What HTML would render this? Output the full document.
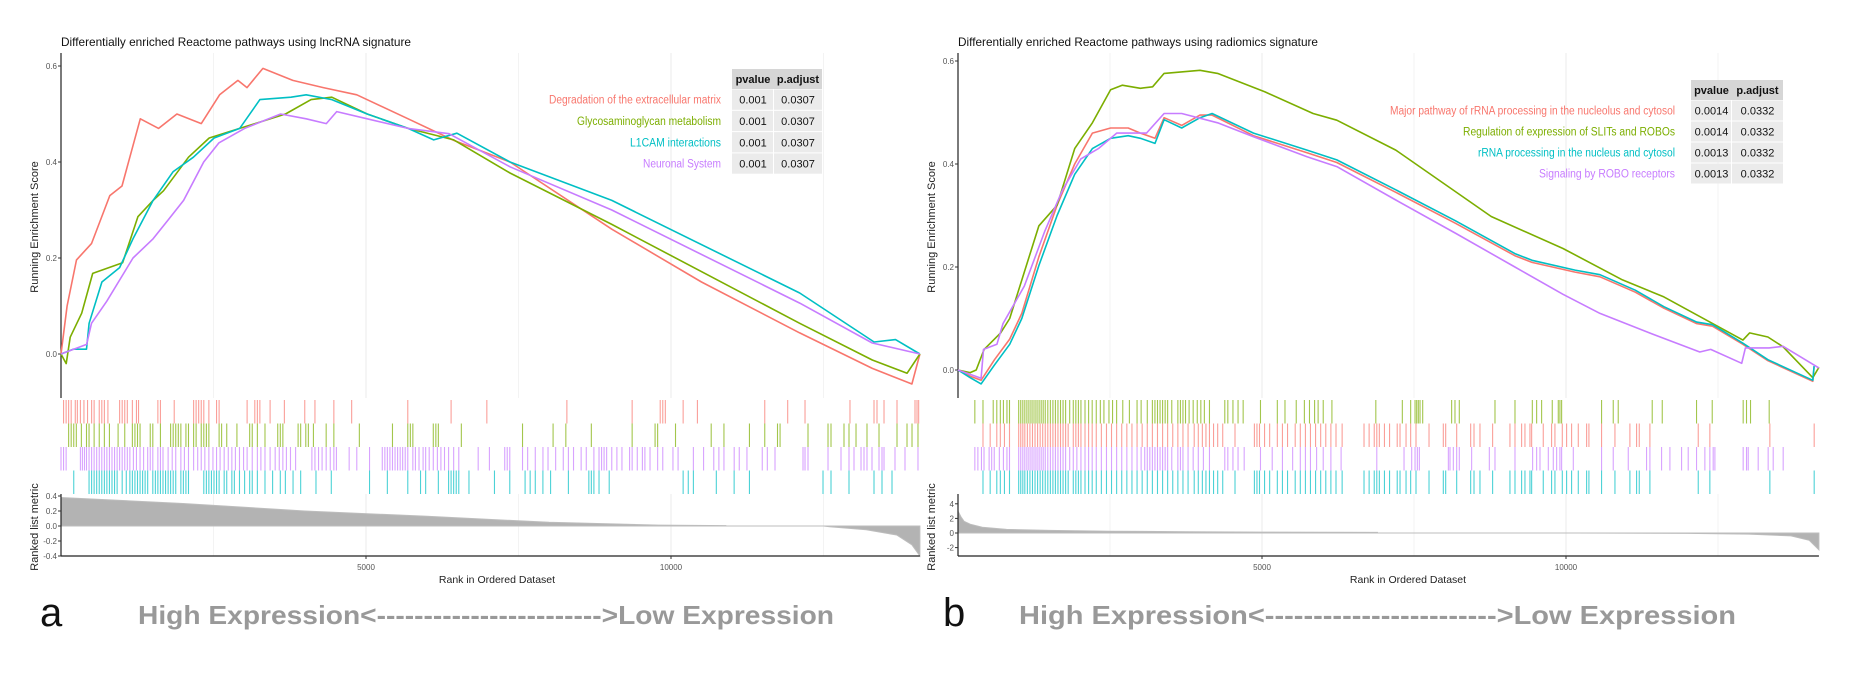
<!DOCTYPE html>
<html><head><meta charset="utf-8">
<style>
html,body{margin:0;padding:0;background:#fff;}
svg{display:block;font-family:"Liberation Sans",sans-serif;}
</style></head>
<body>
<svg id="chart" width="1852" height="676" viewBox="0 0 1852 676" xmlns="http://www.w3.org/2000/svg">
<rect width="1852" height="676" fill="#fff"/>
</svg>
<script>
// ---------- Panel a data ----------
const aSetNames = ["Degradation of the extracellular matrix","Glycosaminoglycan metabolism","L1CAM interactions","Neuronal System"];
const aPvalues = ["0.001","0.001","0.001","0.001"];
const aPadjust = ["0.0307","0.0307","0.0307","0.0307"];
const aXTicks = [5000,10000];
const aYTicks = [0.0,0.2,0.4,0.6];
const aMetricTicks = [-0.4,-0.2,0.0,0.2,0.4];
const aEsRed = [[0,0],[100,0.1],[254,0.196],[500,0.23],[800,0.33],[1000,0.35],[1300,0.49],[1600,0.47],[1900,0.5],[2300,0.48],[2600,0.54],[2900,0.57],[3050,0.555],[3310,0.595],[3800,0.57],[4300,0.555],[4850,0.54],[5690,0.49],[6440,0.445],[7360,0.4],[9030,0.26],[10500,0.15],[12110,0.044],[13300,-0.03],[13950,-0.0625],[14080,0.0]];
const aEsGreen = [[0,0],[85,-0.02],[150,0.035],[340,0.085],[520,0.168],[1010,0.19],[1260,0.286],[1510,0.32],[1680,0.34],[2090,0.41],[2430,0.45],[2930,0.47],[3180,0.48],[3680,0.5],[4100,0.53],[4440,0.535],[5020,0.5],[5690,0.47],[6440,0.446],[7360,0.377],[9030,0.27],[12110,0.064],[13300,-0.0125],[13870,-0.04],[14080,0.0]];
const aEsCyan = [[0,0],[200,0.01],[418,0.01],[460,0.064],[670,0.15],[960,0.18],[1180,0.24],[1510,0.32],[1840,0.38],[2170,0.41],[2510,0.45],[2930,0.47],[3260,0.53],[3770,0.535],[4020,0.54],[4440,0.53],[5020,0.5],[5690,0.47],[6110,0.446],[6490,0.46],[7360,0.4],[9030,0.32],[12110,0.127],[13330,0.025],[13680,0.03],[14080,0.0]];
const aEsPurple = [[0,0],[420,0.02],[500,0.064],[750,0.11],[1180,0.2],[1510,0.24],[1760,0.28],[2010,0.32],[2340,0.4],[2590,0.44],[3010,0.47],[3600,0.5],[4020,0.49],[4350,0.48],[4520,0.505],[5020,0.49],[5690,0.47],[6360,0.459],[7360,0.39],[9030,0.3],[12110,0.106],[13300,0.023],[14080,0.0]];
const aHitsRed = [42,84,125,167,234,268,318,376,435,502,543,627,669,711,769,961,1003,1045,1087,1170,1237,1271,1588,1630,1856,2174,2215,2257,2299,2341,2424,2550,2592,3051,3177,3219,3260,3428,3662,3996,4163,4473,4765,5685,6395,6981,8293,9363,9823,9865,9907,10199,10433,11537,11913,12197,12934,13328,13377,13492,13705,14000,14033,14060];
const aHitsGreen = [125,167,209,251,334,418,460,543,627,711,794,936,1045,1170,1212,1254,1296,1463,1505,1630,1797,1839,1881,1923,1965,2048,2090,2174,2215,2299,2341,2383,2424,2592,2633,2717,2884,3093,3135,3219,3344,3553,3595,3637,3887,3929,4013,4055,4138,4347,4473,4891,5434,5685,5727,5768,6103,6145,6186,6563,7566,8067,8276,8694,9363,9739,9781,10074,10659,10868,11286,11537,11746,11788,12246,12574,12623,12836,12918,13033,13213,13410,13705,13869,13951,14049];
const aHitsPurple = [0,42,84,318,351,385,418,460,502,543,585,627,669,711,752,794,836,878,920,961,1003,1045,1087,1129,1187,1237,1296,1354,1421,1463,1505,1588,1630,1672,1756,1823,1881,1965,2023,2090,2174,2241,2299,2358,2424,2491,2550,2608,2675,2742,2801,2859,2926,2993,3051,3135,3219,3277,3344,3428,3511,3578,3637,3695,3762,3846,4113,4163,4222,4280,4347,4414,4473,4515,4724,4849,5058,5267,5309,5350,5392,5434,5476,5518,5560,5601,5643,5685,5768,5810,5869,5936,5978,6036,6103,6170,6228,6287,6354,6437,6521,6839,7023,7274,7315,7357,7566,7650,7775,7901,7984,8109,8234,8318,8402,8527,8611,8736,8820,8862,8903,8945,9029,9113,9196,9321,9363,9447,9531,9572,9656,9781,9865,10032,10116,10367,10534,10701,10785,10868,11036,11119,11245,11496,11579,11705,12164,12197,12246,12574,12787,12918,13000,13115,13164,13213,13295,13410,13459,13492,13672,13836,14049];
const aHitsCyan = [209,460,502,543,585,627,669,711,752,794,836,878,920,1003,1070,1129,1170,1212,1254,1296,1338,1379,1421,1505,1547,1588,1630,1672,1714,1756,1797,1839,1881,1965,2006,2048,2090,2341,2383,2424,2466,2508,2550,2592,2675,2717,2801,2842,2926,3010,3093,3135,3219,3344,3469,3595,3678,3804,3929,4180,4431,5058,5350,5685,5894,5978,6186,6354,6395,6437,6479,6521,6688,7106,7357,7608,7691,7775,7900,8026,8318,8653,8694,8736,8820,8987,10199,10283,10367,10743,11035,11286,12492,12623,12918,13328,13459,13623];
const aMetric = [[0,0.38],[500,0.36],[2000,0.3],[4000,0.2],[6000,0.13],[8000,0.05],[9800,0.012],[10900,0.005],[10901,0],[12500,0],[12600,-0.01],[13200,-0.05],[13700,-0.12],[13950,-0.25],[14080,-0.4]];

// ---------- Panel b data ----------
const bSetNames = ["Major pathway of rRNA processing in the nucleolus and cytosol","Regulation of expression of SLITs and ROBOs","rRNA processing in the nucleus and cytosol","Signaling by ROBO receptors"];
const bPvalues = ["0.0014","0.0014","0.0013","0.0013"];
const bPadjust = ["0.0332","0.0332","0.0332","0.0332"];
const bXTicks = [5000,10000];
const bYTicks = [0.0,0.2,0.4,0.6];
const bMetricTicks = [-2,0,2,4];
const bEsGreen = [[0,0],[200,-0.005],[300,0.0],[430,0.04],[700,0.072],[850,0.1],[1090,0.19],[1330,0.28],[1630,0.32],[1920,0.43],[2210,0.48],[2510,0.544],[2700,0.553],[3000,0.547],[3200,0.55],[3390,0.576],[3980,0.582],[4270,0.576],[5050,0.54],[5840,0.498],[6230,0.485],[7200,0.427],[8770,0.298],[9950,0.236],[10930,0.175],[11610,0.142],[12910,0.058],[13020,0.072],[13320,0.064],[13570,0.045],[14060,-0.015],[14160,0.005]];
const bEsCyan = [[0,0],[200,-0.015],[380,-0.027],[600,0.01],[850,0.05],[1050,0.1],[1330,0.203],[1630,0.3],[1920,0.38],[2210,0.43],[2510,0.45],[2800,0.455],[3000,0.45],[3240,0.44],[3390,0.486],[3680,0.47],[3980,0.49],[4180,0.498],[4860,0.46],[5740,0.427],[6230,0.408],[7200,0.35],[8180,0.29],[9160,0.226],[9440,0.213],[10150,0.194],[10560,0.185],[11140,0.155],[11610,0.123],[12150,0.093],[12410,0.088],[12910,0.052],[13320,0.02],[14060,-0.02],[14080,0.008]];
const bEsRed = [[0,0],[200,-0.012],[380,-0.02],[600,0.02],[850,0.06],[1050,0.11],[1330,0.22],[1630,0.32],[1920,0.4],[2210,0.46],[2510,0.47],[2800,0.47],[3000,0.46],[3240,0.45],[3390,0.49],[3680,0.475],[3980,0.495],[4180,0.495],[4860,0.455],[5740,0.422],[6230,0.403],[7200,0.345],[8180,0.285],[9160,0.222],[9440,0.209],[10150,0.19],[10560,0.181],[11140,0.151],[11610,0.12],[12150,0.09],[12410,0.085],[12910,0.05],[13320,0.018],[14060,-0.022],[14080,0.006]];
const bEsPurple = [[0,0],[380,-0.016],[420,0.04],[640,0.05],[740,0.09],[1090,0.163],[1430,0.27],[1720,0.35],[2020,0.41],[2310,0.43],[2610,0.46],[3100,0.46],[3390,0.498],[3680,0.498],[4270,0.48],[4860,0.453],[5740,0.414],[6230,0.395],[7200,0.33],[8190,0.265],[9160,0.2],[9950,0.147],[10560,0.11],[11330,0.074],[12200,0.035],[12380,0.04],[12890,0.013],[12950,0.043],[13340,0.043],[13570,0.046],[14160,0.004]];
const bHitsGreen = [277,411,579,638,696,747,805,847,998,1032,1066,1099,1133,1166,1200,1233,1267,1300,1334,1368,1401,1435,1477,1519,1561,1602,1644,1686,1728,1770,1837,1896,1938,1980,2022,2089,2148,2207,2274,2341,2400,2483,2542,2609,2710,2819,2945,3012,3113,3197,3239,3281,3323,3365,3407,3448,3516,3616,3658,3700,3742,3801,3868,3935,3994,4052,4136,4388,4438,4522,4606,4690,4975,5252,5378,5563,5697,5781,5865,5923,6007,6150,6872,7308,7445,7517,7544,7571,7599,7643,8119,8174,8245,8832,9161,9446,9517,9599,9774,9873,9900,9928,10585,10777,10859,11418,11583,12147,12405,12914,12969,13035,13342];
const bHitsRed = [411,529,638,696,764,847,998,1032,1066,1099,1141,1183,1225,1267,1309,1351,1393,1435,1477,1519,1561,1602,1644,1686,1728,1770,1812,1896,1938,1980,2022,2089,2148,2207,2274,2358,2442,2525,2609,2693,2777,2861,2945,3029,3113,3197,3281,3365,3448,3532,3616,3700,3784,3885,3952,4019,4078,4136,4203,4271,4354,4556,4875,4917,4959,5042,5126,5252,5336,5420,5546,5630,5714,5797,5881,5965,6049,6133,6217,6318,6678,6762,6846,6888,6930,7014,7098,7224,7270,7369,7445,7533,7747,7982,8021,8202,8432,8487,8585,8793,9078,9161,9270,9325,9407,9435,9626,9763,9818,9939,10010,10092,10202,10339,10377,10585,10805,11051,11161,11205,11380,12175,12366,13353,14082];
const bHitsPurple = [277,327,386,428,512,554,596,680,747,805,847,998,1032,1066,1099,1133,1166,1200,1233,1267,1300,1334,1368,1401,1435,1477,1519,1561,1602,1644,1686,1728,1770,1837,1896,1955,2022,2089,2148,2207,2274,2358,2442,2525,2609,2693,2777,2861,2945,3012,3071,3113,3155,3197,3239,3281,3323,3365,3407,3448,3516,3616,3658,3700,3784,3868,3952,4036,4136,4388,4438,4522,4606,4707,4975,5168,5336,5504,5630,5714,5797,5898,6007,6133,6301,6888,7336,7462,7517,7555,7588,8065,8092,8147,8202,8245,8448,8739,8832,9161,9451,9517,9572,9709,9791,9846,9900,9928,10120,10585,10777,11024,11325,11380,11572,11709,11901,12010,12147,12284,12366,12421,12449,12914,12969,12997,13161,13325,13408,13572];
const bHitsCyan = [411,529,638,696,764,847,998,1032,1066,1099,1141,1183,1225,1267,1309,1351,1393,1435,1477,1519,1561,1602,1644,1686,1728,1770,1812,1896,1938,1980,2022,2089,2148,2207,2274,2358,2442,2525,2609,2693,2777,2861,2945,3029,3113,3197,3281,3365,3448,3532,3616,3700,3784,3885,3952,4019,4078,4136,4203,4271,4354,4556,4875,4917,4959,5042,5126,5252,5336,5420,5546,5630,5714,5797,5881,5965,6049,6133,6217,6318,6678,6762,6846,6888,6930,7014,7098,7224,7270,7369,7445,7533,7747,7982,8021,8202,8432,8487,8585,8793,9078,9161,9270,9325,9407,9435,9626,9763,9818,9939,10010,10092,10202,10339,10377,10585,10805,11051,11161,11205,11380,12175,12366,13353,14082];
const bMetric = [[0,3.0],[50,2.2],[100,1.6],[200,1.2],[400,0.8],[800,0.5],[1500,0.35],[2500,0.25],[3800,0.18],[5000,0.12],[6900,0.08],[6901,0],[10150,0],[12000,-0.05],[13000,-0.15],[13700,-0.4],[14000,-1.0],[14160,-2.3]];

const RED="#F8766D", GREEN="#7CAE00", CYAN="#00BFC4", PURPLE="#C77CFF";
const NS="http://www.w3.org/2000/svg";
const svg=document.getElementById('chart');
function mk(tag,attrs,parent,text){const e=document.createElementNS(NS,tag);for(const k in attrs)e.setAttribute(k,attrs[k]);if(text!==undefined)e.textContent=text;(parent||svg).appendChild(e);return e;}

function drawPanel(P){
  const g=mk('g',{});
  
  
  const x=r=>P.x0+r*P.xs;
  const y=v=>P.y0-v*P.ys;
  const my=v=>P.m0-v*P.ms;
  const xEnd=x(P.nmax);
  for(let r=2500;r<P.nmax;r+=2500){
    const gl=mk('line',{x1:x(r),x2:x(r),y1:53,y2:398,stroke:r%5000===0?'#ebebeb':'#f3f3f3','stroke-width':1},g);
    
    
    const gl2=mk('line',{x1:x(r),x2:x(r),y1:494,y2:556,stroke:r%5000===0?'#ebebeb':'#f3f3f3','stroke-width':1},g);
    
    
  }
  const t=mk('text',{x:P.x0,y:46,'font-size':12,fill:'#111',textLength:P.titleW,lengthAdjust:'spacingAndGlyphs'},g,P.title);
  
  
  const ax=mk('line',{x1:P.x0,x2:P.x0,y1:53,y2:398,stroke:'#222','stroke-width':1.2},g);
  
  
  P.yTicks.forEach(v=>{
    mk('line',{x1:P.x0-3,x2:P.x0,y1:y(v),y2:y(v),stroke:'#333'},g);
    const l=mk('text',{x:P.x0-4,y:y(v)+3,'font-size':8,fill:'#555','text-anchor':'end'},g,v.toFixed(1));
    
    
  });
  const yt=mk('text',{x:0,y:0,'font-size':11,fill:'#222','text-anchor':'middle',transform:`translate(${P.x0-23},227) rotate(-90)`},g,'Running Enrichment Score');
  
  
  P.curves.forEach(c=>{
    const pl=mk('polyline',{points:c.data.map(d=>x(d[0]).toFixed(1)+','+y(d[1]).toFixed(1)).join(' '),fill:'none',stroke:c.color,'stroke-width':1.6,'stroke-linejoin':'round'},g);
    
    
  });
  P.hits.forEach((h,i)=>{
    const top=400+i*23.5;
    const hg=mk('g',{},g);
    
    
    h.data.forEach(r=>{
      mk('line',{x1:x(r),x2:x(r),y1:top,y2:top+23.5,stroke:h.color,'stroke-width':1.1,'stroke-opacity':0.7},hg);
    });
  });
  const pts=[[x(0),my(0)]].concat(P.metric.map(d=>[x(d[0]),my(d[1])])).concat([[x(P.metric[P.metric.length-1][0]),my(0)]]);
  const area=mk('polygon',{points:pts.map(p=>p[0].toFixed(1)+','+p[1].toFixed(1)).join(' '),fill:'#b3b3b3',stroke:'#bdbdbd','stroke-width':1},g);
  
  
  const ax2=mk('line',{x1:P.x0,x2:P.x0,y1:494,y2:556,stroke:'#222','stroke-width':1.2},g);
  
  
  const ax3=mk('line',{x1:P.x0,x2:xEnd,y1:556,y2:556,stroke:'#222','stroke-width':1.2},g);
  
  
  P.mTicks.forEach(v=>{
    mk('line',{x1:P.x0-3,x2:P.x0,y1:my(v),y2:my(v),stroke:'#333'},g);
    const l=mk('text',{x:P.x0-4,y:my(v)+3,'font-size':8,fill:'#555','text-anchor':'end'},g,P.mFmt(v));
    
    
  });
  const mt=mk('text',{x:0,y:0,'font-size':11,fill:'#222','text-anchor':'middle',transform:`translate(${P.x0-23},527) rotate(-90)`},g,'Ranked list metric');
  
  
  P.xTicks.forEach(v=>{
    mk('line',{x1:x(v),x2:x(v),y1:556,y2:559,stroke:'#333'},g);
    const l=mk('text',{x:x(v),y:570,'font-size':8,fill:'#555','text-anchor':'middle'},g,String(v));
    
    
  });
  const xt=mk('text',{x:P.xTitleX,y:583,'font-size':10.5,fill:'#222','text-anchor':'middle'},g,'Rank in Ordered Dataset');
  
  
  const T=P.table;
  const tg=mk('g',{},g);
  
  
  mk('rect',{x:T.c0,y:T.top,width:T.c1-T.c0,height:T.rh0,fill:'#d6d6d6'},tg);
  mk('rect',{x:T.c1,y:T.top,width:T.c2-T.c1,height:T.rh0,fill:'#d6d6d6'},tg);
  mk('text',{x:(T.c0+T.c1)/2,y:T.top+T.rh0/2+4,'font-size':11,'font-weight':'bold','text-anchor':'middle',fill:'#111'},tg,'pvalue');
  mk('text',{x:(T.c1+T.c2)/2,y:T.top+T.rh0/2+4,'font-size':11,'font-weight':'bold','text-anchor':'middle',fill:'#111'},tg,'p.adjust');
  P.names.forEach((n,i)=>{
    const ry=T.top+T.rh0+i*T.rh;
    mk('rect',{x:T.c0,y:ry+0.5,width:T.c1-T.c0-1,height:T.rh-1,fill:'#ebebeb'},tg);
    mk('rect',{x:T.c1,y:ry+0.5,width:T.c2-T.c1,height:T.rh-1,fill:'#ebebeb'},tg);
    const le=mk('text',{x:T.textX,y:ry+T.rh/2+4,'font-size':11.5,'text-anchor':'end',fill:P.nameColors[i],textLength:P.nameW[i],lengthAdjust:'spacingAndGlyphs'},tg,n);
    
    
    mk('text',{x:(T.c0+T.c1)/2,y:ry+T.rh/2+4,'font-size':11,'text-anchor':'middle',fill:'#111'},tg,P.pv[i]);
    mk('text',{x:(T.c1+T.c2)/2,y:ry+T.rh/2+4,'font-size':11,'text-anchor':'middle',fill:'#111'},tg,P.pa[i]);
  });
}

drawPanel({id:'a',x0:61,xs:0.061,nmax:14080,y0:354,ys:480,m0:526,ms:75,
  title:'Differentially enriched Reactome pathways using lncRNA signature',titleW:350,
  yTicks:aYTicks,mTicks:aMetricTicks,mFmt:v=>v.toFixed(1),xTicks:aXTicks,xTitleX:497,
  curves:[{name:'degradation',color:RED,data:aEsRed},{name:'glycosaminoglycan',color:GREEN,data:aEsGreen},{name:'l1cam',color:CYAN,data:aEsCyan},{name:'neuronal',color:PURPLE,data:aEsPurple}],
  hits:[{name:'degradation',color:RED,data:aHitsRed},{name:'glycosaminoglycan',color:GREEN,data:aHitsGreen},{name:'neuronal',color:PURPLE,data:aHitsPurple},{name:'l1cam',color:CYAN,data:aHitsCyan}],
  metric:aMetric,
  table:{c0:732,c1:774,c2:822,top:69,rh0:20,rh:21.3,textX:721},
  names:aSetNames,nameColors:[RED,GREEN,CYAN,PURPLE],nameW:[172,144,91,78],pv:aPvalues,pa:aPadjust});

drawPanel({id:'b',x0:958,xs:0.0608,nmax:14160,y0:370,ys:515,m0:533,ms:7.3,
  title:'Differentially enriched Reactome pathways using radiomics signature',titleW:360,
  yTicks:bYTicks,mTicks:bMetricTicks,mFmt:v=>String(v),xTicks:bXTicks,xTitleX:1408,
  curves:[{name:'major-rrna',color:RED,data:bEsRed},{name:'slits-robos',color:GREEN,data:bEsGreen},{name:'rrna-processing',color:CYAN,data:bEsCyan},{name:'robo-signaling',color:PURPLE,data:bEsPurple}],
  hits:[{name:'slits-robos',color:GREEN,data:bHitsGreen},{name:'major-rrna',color:RED,data:bHitsRed},{name:'robo-signaling',color:PURPLE,data:bHitsPurple},{name:'rrna-processing',color:CYAN,data:bHitsCyan}],
  metric:bMetric,
  table:{c0:1691,c1:1732,c2:1783,top:80,rh0:20,rh:21,textX:1675},
  names:bSetNames,nameColors:[RED,GREEN,CYAN,PURPLE],nameW:[285,212,197,136],pv:bPvalues,pa:bPadjust});

const la=mk('text',{x:40,y:626,'font-size':40,fill:'#111'},svg,'a');


const ca=mk('text',{x:138,y:624,'font-size':26,'font-weight':'bold',fill:'#999',textLength:696,lengthAdjust:'spacingAndGlyphs'},svg,'High Expression<------------------------>Low Expression');


const lb=mk('text',{x:943,y:626,'font-size':40,fill:'#111'},svg,'b');


const cb=mk('text',{x:1019,y:624,'font-size':26,'font-weight':'bold',fill:'#999',textLength:717,lengthAdjust:'spacingAndGlyphs'},svg,'High Expression<------------------------>Low Expression');


</script>
</body></html>
